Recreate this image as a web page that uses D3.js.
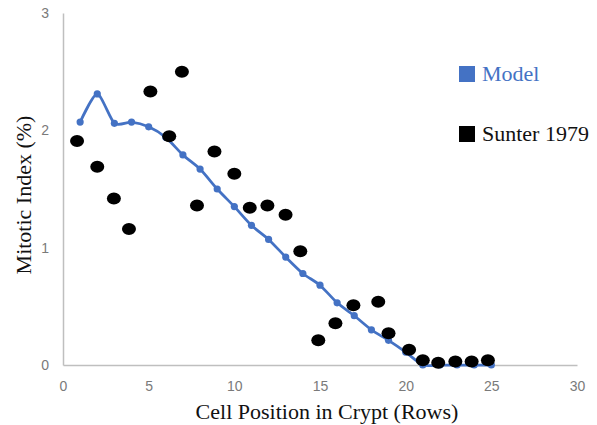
<!DOCTYPE html>
<html>
<head>
<meta charset="utf-8">
<script src="https://cdn.jsdelivr.net/npm/d3@7"></script>
<style>
  body { margin: 0; background: #fff; }
</style>
</head>
<body>
<div id="chart"></div>
<script>
// Data
const modelRows = [1, 2, 3, 4, 5, 6, 7, 8, 9, 10, 11, 12, 13, 14, 15, 16, 17, 18, 19, 20, 21, 22, 23, 24, 25];
const modelIndex = [2.07, 2.31, 2.06, 2.07, 2.03, 1.94, 1.79, 1.67, 1.50, 1.35, 1.19, 1.07, 0.92, 0.78, 0.68, 0.53, 0.42, 0.30, 0.21, 0.11, 0, 0, 0, 0, 0];

const sunterRows = [0.82, 2.0, 2.97, 3.85, 5.1, 6.2, 6.94, 7.82, 8.84, 10.0, 10.9, 11.93, 12.99, 13.85, 14.9, 15.9, 16.95, 18.4, 19.0, 20.2, 21.0, 21.9, 22.9, 23.85, 24.8];
const sunterIndex = [1.91, 1.69, 1.42, 1.16, 2.33, 1.95, 2.50, 1.36, 1.82, 1.63, 1.34, 1.36, 1.28, 0.97, 0.21, 0.355, 0.51, 0.54, 0.27, 0.13, 0.04, 0.02, 0.03, 0.03, 0.04];

const xTicks = [0, 5, 10, 15, 20, 25, 30];
const yTicks = [0, 1, 2, 3];

const W = 597, H = 425;
const margin = {top: 13, right: 20, bottom: 60, left: 63};
const width = W - margin.left - margin.right;
const height = H - margin.top - margin.bottom;

const svg = d3.select("#chart")
    .append("svg")
    .attr("width", W)
    .attr("height", H)
    .append("g")
    .attr("transform", "translate(" + margin.left + "," + margin.top + ")");

const x = d3.scaleLinear().domain([0, 30]).range([0, 514]);
const y = d3.scaleLinear().domain([0, 3]).range([height, 0]);

// Axes
const xAxis = d3.axisBottom(x).tickValues(xTicks).tickSize(0).tickPadding(16).tickFormat(d3.format("d"));
const yAxis = d3.axisLeft(y).tickValues(yTicks).tickSize(0).tickPadding(14).tickFormat(d3.format("d"));

svg.append("g")
    .attr("transform", "translate(0," + height + ")")
    .call(xAxis)
    .call(g => g.select(".domain").attr("stroke", "#bfbfbf").attr("stroke-width", 1.5))
    .call(g => g.selectAll("text")
        .style("font-family", "'Liberation Sans', sans-serif")
        .style("font-size", "14px")
        .style("fill", "#7a7a7a"));

svg.append("g")
    .call(yAxis)
    .call(g => g.select(".domain").attr("stroke", "#bfbfbf").attr("stroke-width", 1.5))
    .call(g => g.selectAll("text")
        .style("font-family", "'Liberation Sans', sans-serif")
        .style("font-size", "14px")
        .style("fill", "#7a7a7a"));

// Model line (smoothed, as in the original)
const model = modelRows.map((r, i) => ({r: r, v: modelIndex[i]}));
const line = d3.line()
    .x(d => x(d.r))
    .y(d => y(d.v))
    .curve(d3.curveCardinal.tension(0.3));

svg.append("path")
    .datum(model)
    .attr("fill", "none")
    .attr("stroke", "#4472c4")
    .attr("stroke-width", 2.75)
    .attr("d", line);

svg.selectAll(".model-pt")
    .data(model)
    .enter().append("circle")
    .attr("class", "model-pt")
    .attr("cx", d => x(d.r))
    .attr("cy", d => y(d.v))
    .attr("r", 3.6)
    .attr("fill", "#4472c4");

// Sunter 1979 points
const sunter = sunterRows.map((r, i) => ({r: r, v: sunterIndex[i]}));
svg.selectAll(".sunter-pt")
    .data(sunter)
    .enter().append("ellipse")
    .attr("class", "sunter-pt")
    .attr("cx", d => x(d.r))
    .attr("cy", d => y(d.v))
    .attr("rx", 7)
    .attr("ry", 6)
    .attr("fill", "#000");

// Axis titles
svg.append("text")
    .attr("x", 264)
    .attr("y", height + 54)
    .attr("text-anchor", "middle")
    .style("font-family", "'Liberation Serif', serif")
    .style("font-size", "22px")
    .style("fill", "#111")
    .text("Cell Position in Crypt (Rows)");

svg.append("text")
    .attr("transform", "translate(" + (-32) + "," + 182 + ") rotate(-90)")
    .attr("text-anchor", "middle")
    .style("font-family", "'Liberation Serif', serif")
    .style("font-size", "22px")
    .style("fill", "#111")
    .text("Mitotic Index (%)");

// Legend
const legend = [
    {name: "Model", color: "#4472c4", text: "#4472c4"},
    {name: "Sunter 1979", color: "#000", text: "#111"}
];
const lg = svg.selectAll(".legend")
    .data(legend)
    .enter().append("g")
    .attr("class", "legend")
    .attr("transform", (d, i) => "translate(" + (459 - margin.left) + "," + (66 - margin.top + i * 60) + ")");

lg.append("rect")
    .attr("width", 16)
    .attr("height", 16)
    .attr("fill", d => d.color);

lg.append("text")
    .attr("x", 23)
    .attr("y", 14.5)
    .style("font-family", "'Liberation Serif', serif")
    .style("font-size", "22px")
    .style("fill", d => d.text)
    .text(d => d.name);
</script>
</body>
</html>
